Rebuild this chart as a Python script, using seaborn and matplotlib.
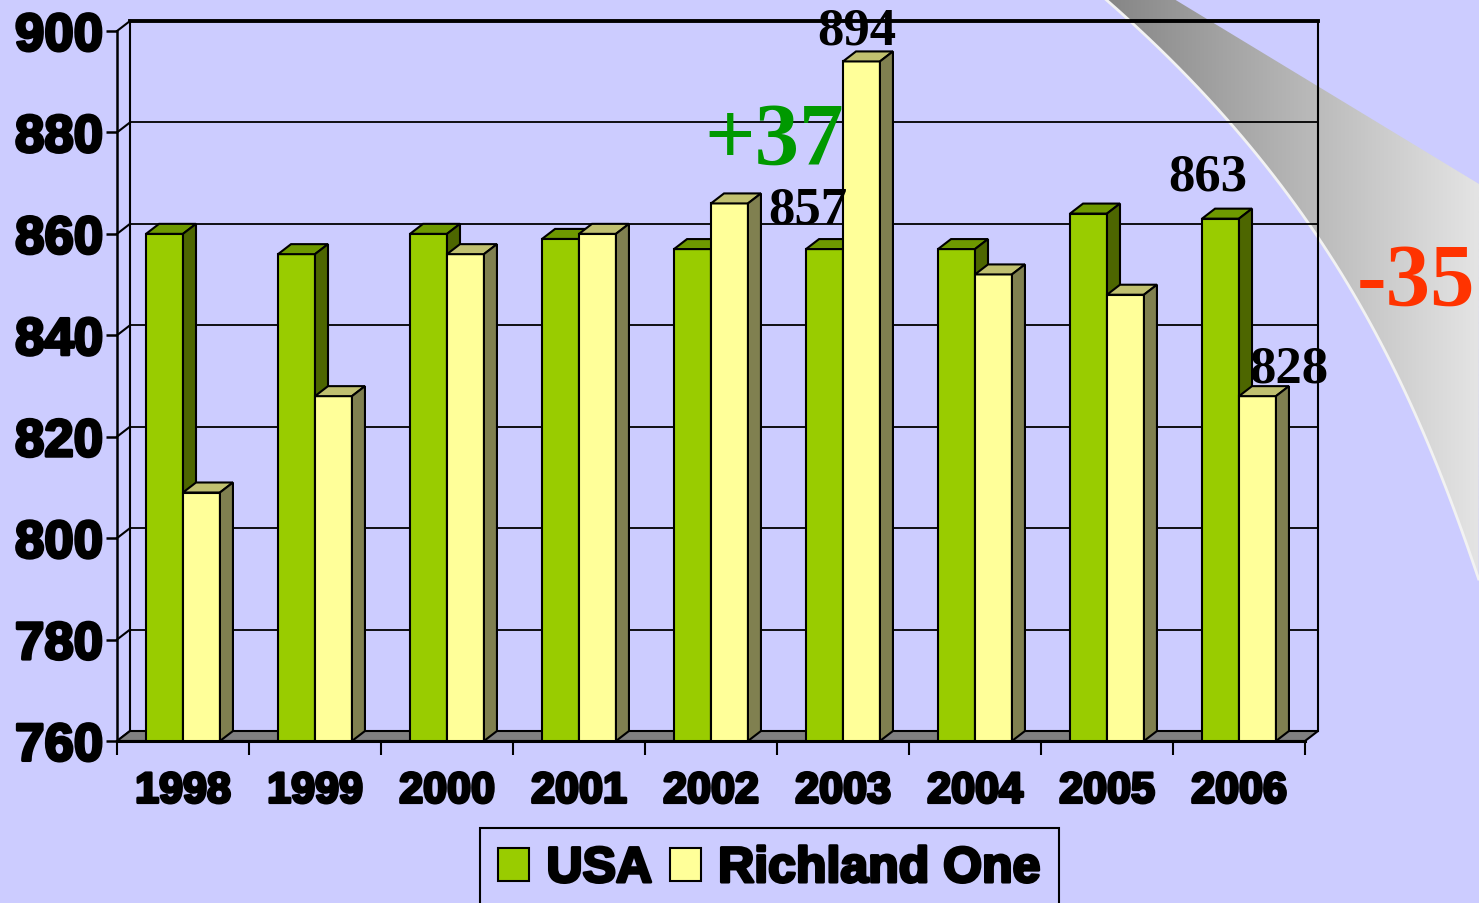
import numpy as np
import pandas as pd
import matplotlib
matplotlib.use("Agg")
import matplotlib.pyplot as plt
import matplotlib.patheffects as pe
import seaborn as sns
from matplotlib.patches import Polygon, Patch
from matplotlib.colors import LinearSegmentedColormap

# data
years = ["1998", "1999", "2000", "2001", "2002", "2003", "2004", "2005", "2006"]
usa = [860, 856, 860, 859, 857, 857, 857, 864, 863]
richland = [809, 828, 856, 860, 866, 894, 852, 848, 828]
series = ["USA", "Richland One"]
y_ticks = [760, 780, 800, 820, 840, 860, 880, 900]

df = pd.DataFrame({
    "Year": years * 2,
    "Score": usa + richland,
    "Group": [series[0]] * len(years) + [series[1]] * len(years),
})

front = ["#99CC00", "#FFFF99"]
tops = ["#6E9900", "#C0C070"]
sides = ["#4D6600", "#808050"]
BG = "#CCCCFF"
heavy = [pe.withStroke(linewidth=2.2, foreground="black")]

W, H = 1479, 904
fig = plt.figure(figsize=(W / 100, H / 100), dpi=100, facecolor=BG)

# page curl decoration in the top right corner
bg = fig.add_axes([0, 0, 1, 1], zorder=0)
bg.set_xlim(0, W)
bg.set_ylim(H, 0)
bg.axis("off")
ky = [0, 20, 77, 123, 173, 233, 300, 377, 450, 515, 580]
kx = [1105, 1129, 1186, 1227, 1274, 1314, 1355, 1399, 1430, 1455, 1479]
cy = np.linspace(0, 580, 60)
cx = np.polyval(np.polyfit(ky, kx, 3), cy)
curl = Polygon(list(zip(cx, cy)) + [(1479, 185), (1174, 0)], closed=True,
               facecolor="none", edgecolor="none")
bg.add_patch(curl)
cmap = LinearSegmentedColormap.from_list("curl", ["#858585", "#e4e4e4"])
img = bg.imshow(np.linspace(0, 1, 256)[None, :], cmap=cmap, aspect="auto",
                extent=[1105, 1479, 580, 0])
img.set_clip_path(curl)
bg.plot(cx, cy, color="#f2f2f2", lw=2)

# main chart
ax = fig.add_axes([117 / W, (H - 742) / H, (1305 - 117) / W, 710 / H], zorder=1)
ax.set_facecolor("none")
sns.barplot(data=df, x="Year", y="Score", hue="Group", palette=front,
            saturation=1, width=0.56, edgecolor="black", linewidth=1.5,
            legend=False, ax=ax)
ax.set_xlim(-0.5, 8.5)
ax.set_ylim(760, 900)

DX = 13 * 9 / 1188
DY = 10 * 140 / 710
base = 760
for i, cont in enumerate(ax.containers):
    for bar in cont:
        x0 = bar.get_x()
        x1 = x0 + bar.get_width()
        top = bar.get_height()
        bar.set_zorder(3 + 3 * i)
        ax.add_patch(Polygon([(x0, top), (x1, top), (x1 + DX, top + DY), (x0 + DX, top + DY)],
                             facecolor=tops[i], edgecolor="black", lw=1.5,
                             zorder=4 + 3 * i, clip_on=False))
        ax.add_patch(Polygon([(x1, base), (x1, top), (x1 + DX, top + DY), (x1 + DX, base + DY)],
                             facecolor=sides[i], edgecolor="black", lw=1.5,
                             zorder=4 + 3 * i, clip_on=False))

# floor and walls
ax.add_patch(Polygon([(-0.5, base), (8.5, base), (8.5 + DX, base + DY), (-0.5 + DX, base + DY)],
                     facecolor="#808080", edgecolor="black", lw=1.5, zorder=1.5, clip_on=False))
for v in y_ticks[1:]:
    ax.plot([-0.5 + DX, 8.5 + DX], [v + DY, v + DY], color="black",
            lw=2.8 if v == 900 else 1.3, zorder=1, clip_on=False)
for v in y_ticks:
    ax.plot([-0.5, -0.5 + DX], [v, v + DY], color="black", lw=1.5, zorder=1, clip_on=False)
ax.plot([-0.5 + DX] * 2, [base + DY, 900 + DY], color="black", lw=1.5, zorder=1, clip_on=False)
ax.plot([8.5 + DX] * 2, [base + DY, 900 + DY], color="black", lw=1.5, zorder=1, clip_on=False)

for s in ["top", "right"]:
    ax.spines[s].set_visible(False)
ax.spines["left"].set_linewidth(1.8)
ax.spines["bottom"].set_linewidth(2.2)
ax.spines["left"].set_zorder(10)
ax.spines["bottom"].set_zorder(10)

ax.set_yticks(y_ticks)
ax.set_yticklabels([str(v) for v in y_ticks], fontfamily="Liberation Sans",
                   fontweight="bold", fontsize=38)
ax.tick_params(axis="y", direction="out", length=8, width=1.8, pad=2)
ax.set_xticks(range(len(years)))
ax.set_xticklabels(years, fontfamily="Liberation Sans", fontweight="bold", fontsize=31)
ax.set_xticks(np.arange(-0.5, len(years)), minor=True)
ax.tick_params(axis="x", which="major", length=0, pad=22)
ax.tick_params(axis="x", which="minor", direction="out", length=10, width=1.5)
for t in ax.get_yticklabels() + ax.get_xticklabels():
    t.set_path_effects(heavy)
ax.set_xlabel("")
ax.set_ylabel("")

# value labels
lab = dict(fontfamily="Liberation Serif", fontweight="bold", fontsize=38,
           ha="center", va="baseline", zorder=12)
ax.text(5 - 0.265, usa[5] + 5.2, str(usa[5]), **lab)
ax.text(5.106, richland[5] + 3.5, str(richland[5]), **lab)
ax.text(8 - 0.235, usa[8] + 5.7, str(usa[8]), **lab)
ax.text(8.38, richland[8] + 2.8, str(richland[8]), **lab)

gain = richland[5] - usa[5]
loss = richland[8] - usa[8]
ax.text(4.48, richland[5] - 20, f"+{gain}", fontfamily="Liberation Serif",
        fontweight="bold", fontsize=64, color="#009900", ha="center",
        va="baseline", zorder=12)
fig.text(1416 / W, 1 - 305 / H, f"{loss}", fontfamily="Liberation Serif",
         fontweight="bold", fontsize=64, color="#FF3300", ha="center",
         va="baseline", zorder=12)

handles = [Patch(facecolor=c, edgecolor="black", lw=1.5) for c in front]
leg = fig.legend(handles, series, loc="upper left", bbox_to_anchor=(480 / W, 1 - 829 / H),
                 ncol=2, frameon=True, fancybox=False, edgecolor="black", facecolor=BG,
                 framealpha=1, prop={"family": "Liberation Sans", "weight": "bold", "size": 36},
                 handlelength=0.62, handleheight=0.62, handletextpad=0.35,
                 columnspacing=0.35, borderpad=0.36, borderaxespad=0)
leg.get_frame().set_linewidth(1.5)
for t in leg.get_texts():
    t.set_path_effects(heavy)

fig.savefig("out.png", dpi=100, facecolor=BG)
